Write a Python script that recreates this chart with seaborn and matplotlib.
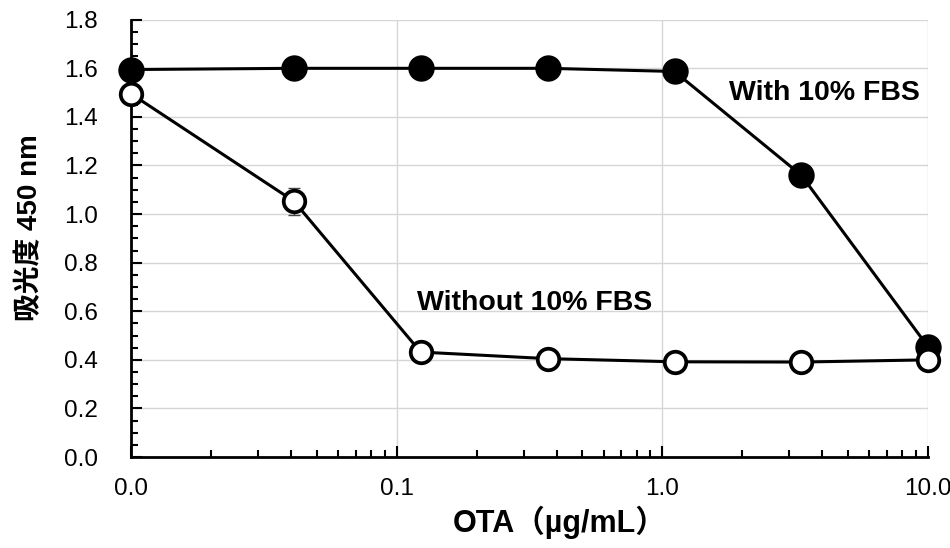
import numpy as np
import pandas as pd
import seaborn as sns
import matplotlib.pyplot as plt
from matplotlib.ticker import FixedLocator, FuncFormatter, MultipleLocator

# OTA concentrations (µg/mL), 3-fold dilution series; the lowest one sits on the axis start
ota = [0.01, 0.041, 0.123, 0.37, 1.11, 3.33, 10.0]
with_fbs = [1.595, 1.60, 1.60, 1.60, 1.587, 1.16, 0.453]
without_fbs = [1.495, 1.053, 0.432, 0.405, 0.392, 0.391, 0.400]
without_err = [0.0, 0.055, 0.0, 0.0, 0.0, 0.0, 0.0]

sns.set_style("white")
plt.rcParams['font.family'] = ['Liberation Sans', 'Noto Sans CJK JP', 'DejaVu Sans']
plt.rcParams['text.color'] = 'black'
plt.rcParams['axes.labelcolor'] = 'black'

df = pd.DataFrame({"ota": ota, "with": with_fbs, "without": without_fbs, "err": without_err})

fig = plt.figure(figsize=(9.5, 5.48), dpi=100)
ax = fig.add_axes([0.138, 0.166, 0.839, 0.798])

ax.errorbar(df["ota"], df["without"], yerr=df["err"], fmt="none", ecolor="#444444",
            elinewidth=1, capsize=4, capthick=1, zorder=2)

sns.lineplot(data=df, x="ota", y="with", ax=ax, color="black", linewidth=2.2,
             marker="o", markersize=17, markerfacecolor="black", markeredgecolor="black",
             markeredgewidth=2, clip_on=False, zorder=3)
sns.lineplot(data=df, x="ota", y="without", ax=ax, color="black", linewidth=2.2,
             marker="o", markersize=15.5, markerfacecolor="white", markeredgecolor="black",
             markeredgewidth=2.7, clip_on=False, zorder=4)

ax.set_xscale("log")
ax.set_xlim(0.01, 10)
ax.set_ylim(0, 1.8)
ax.xaxis.set_major_locator(FixedLocator([0.01, 0.1, 1, 10]))
ax.xaxis.set_major_formatter(FuncFormatter(lambda v, p: f"{v:.1f}"))
ax.yaxis.set_major_locator(MultipleLocator(0.2))
ax.yaxis.set_minor_locator(MultipleLocator(0.05))
ax.yaxis.set_major_formatter(FuncFormatter(lambda v, p: f"{v:.1f}"))

ax.grid(True, which="major", color="#d6d6d6", linewidth=1)
ax.set_axisbelow(True)
for s in ["top", "right"]:
    ax.spines[s].set_visible(False)
for s in ["left", "bottom"]:
    ax.spines[s].set_color("black")
    ax.spines[s].set_linewidth(2)

ax.tick_params(which="both", bottom=True, left=True, direction="in", colors="black", width=1.5)
ax.tick_params(which="major", length=8, labelsize=17.5)
ax.tick_params(which="minor", length=5)
ax.tick_params(axis="x", which="major", pad=15)
ax.tick_params(axis="y", which="major", pad=24)
ax.tick_params(axis="x", which="minor", labelbottom=False)

ax.set_xlabel("OTA（µg/mL）", fontsize=22, fontweight="bold")
ax.set_ylabel("吸光度 450 nm", fontsize=20, fontweight="bold")
ax.xaxis.label.set_va("center")
ax.yaxis.label.set_va("center")
ax.xaxis.set_label_coords(0.538, -0.149)
ax.yaxis.set_label_coords(-0.127, 0.524)

ax.text(9.33, 1.50, "With 10% FBS", fontsize=20.5, fontweight="bold", ha="right", va="center")
ax.text(0.119, 0.634, "Without 10% FBS", fontsize=20.5, fontweight="bold", ha="left", va="center")

fig.savefig("out.png", dpi=100)
